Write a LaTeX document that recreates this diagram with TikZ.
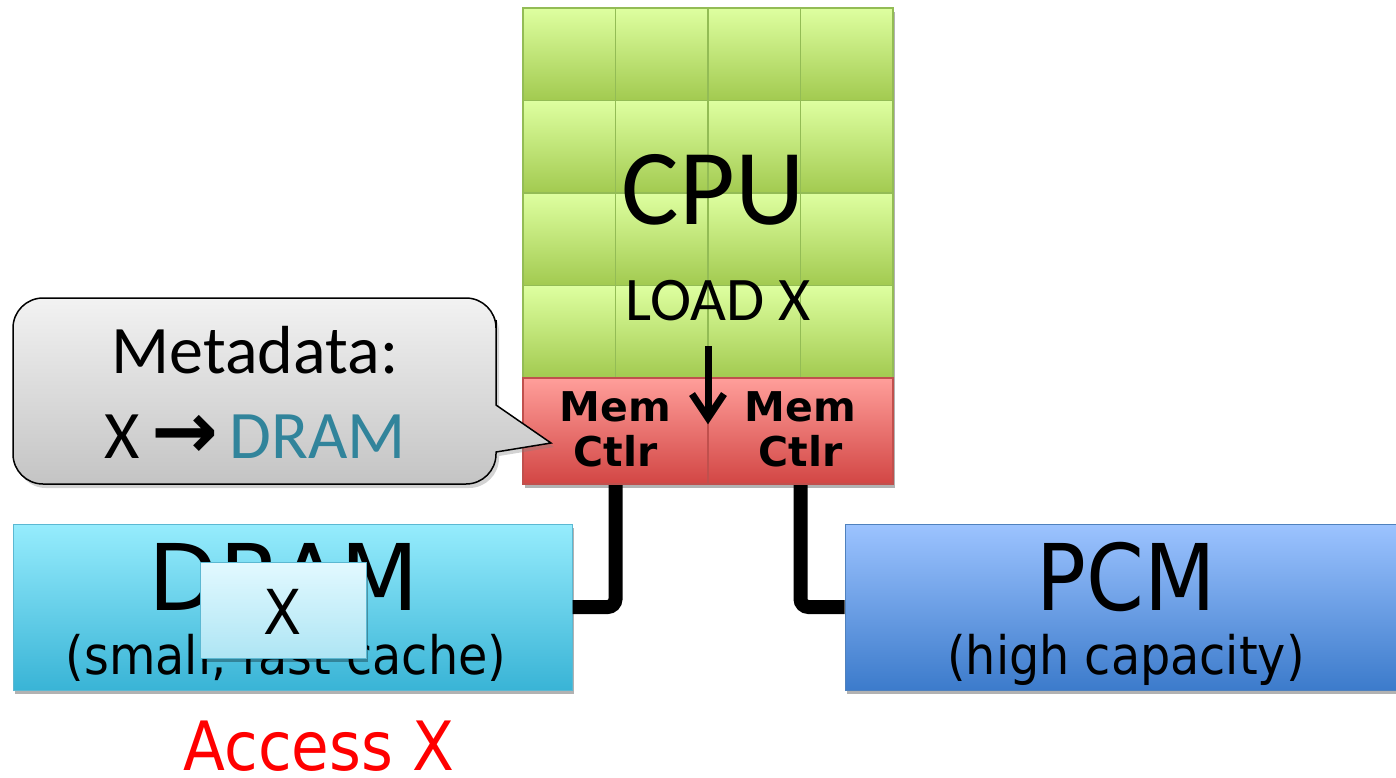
\documentclass[tikz,border=0pt]{standalone}
\usepackage{fontspec}
\usetikzlibrary{arrows.meta,shadows}
\newfontfamily\tahfont{DejaVu Sans Condensed}
\newfontfamily\tahwide{DejaVu Sans Condensed}[FakeStretch=1.1]
\newfontfamily\calfont{Carlito}
\newfontfamily\arrfont{DejaVu Sans}
\definecolor{cpuT}{HTML}{DEFFA0}
\definecolor{cpuB}{HTML}{A2CA50}
\definecolor{cpuL}{HTML}{93BC55}
\definecolor{mcT}{HTML}{FF9E9A}
\definecolor{mcB}{HTML}{D24644}
\definecolor{mcL}{HTML}{C0504D}
\definecolor{drT}{HTML}{96ECFD}
\definecolor{drB}{HTML}{39B4D6}
\definecolor{drL}{HTML}{5BB8D2}
\definecolor{pcT}{HTML}{9CC3FF}
\definecolor{pcB}{HTML}{3C7BCB}
\definecolor{pcL}{HTML}{4F81BD}
\definecolor{xT}{HTML}{E2F9FF}
\definecolor{xB}{HTML}{AEE5F4}
\definecolor{coT}{HTML}{F2F2F2}
\definecolor{coB}{HTML}{C4C4C4}
\definecolor{tealc}{HTML}{31849B}
\tikzset{
  shad/.style={drop shadow={shadow xshift=2pt,shadow yshift=-4pt,opacity=0.3,fill=black}},
  cell/.style={draw=cpuL,line width=1.3pt,top color=cpuT,bottom color=cpuB},
  membox/.style={draw=mcL,line width=1.2pt,top color=mcT,bottom color=mcB,minimum width=185pt,minimum height=106pt,inner sep=0pt},
  memtext/.style={font=\arrfont\bfseries\fontsize{41}{45}\selectfont,align=center},
  bus/.style={line width=14pt,rounded corners=8pt},
}
\begin{document}
\begin{tikzpicture}[x=1pt,y=-1pt]
\useasboundingbox (0,0) rectangle (1396,777);
% CPU block shadow
\node[shad,fill=white,minimum width=370pt,minimum height=476pt,inner sep=0pt] (cpublk) at (708,246) {};
% buses
\coordinate (lbus) at (615.5,484);
\coordinate (rbus) at (800.5,484);
% memory modules
\node[shad,draw=drL,line width=1pt,top color=drT,bottom color=drB,minimum width=559pt,minimum height=166pt,inner sep=0pt] (dram) at (292.5,607) {};
\node[shad,draw=pcL,line width=1pt,top color=pcT,bottom color=pcB,minimum width=552pt,minimum height=166pt,inner sep=0pt] (pcm) at (1121,607) {};
\draw[bus] (lbus) |- (dram.east);
\draw[bus] (rbus) |- (pcm.west);
% CPU cells
\foreach \i in {0,...,3}{
  \foreach \j in {0,...,3}{
    \path[cell] ({523+\i*92.5},{8+\j*92.5}) rectangle +(92.5,92.5);
  }
}
\node[membox] (memL) at (615.5,431) {};
\node[membox] (memR) at (800.5,431) {};
\node[memtext] (memLt) at ([yshift=2pt]memL) {Mem\\Ctlr};
\node[memtext] (memRt) at ([yshift=2pt]memR) {Mem\\Ctlr};
\node[anchor=base,font=\calfont\fontsize{108}{108}\selectfont,inner sep=0pt] (cput) at (713,224) {CPU};
\node[anchor=base,font=\calfont\fontsize{62}{62}\selectfont,inner sep=0pt] (load) at (718,320) {LOAD X};
\coordinate (arrS) at (708,346);
\coordinate (arrE) at (708,418);
\draw[line width=7pt,line join=miter] (arrS) -- (arrE);
\draw[line width=7pt,line join=miter] (arrE) ++(-16,-24) -- (arrE) -- ++(16,-24);
% callout
\shade[top color=coT,bottom color=coB,draw=black,line width=1.5pt,drop shadow={shadow xshift=3pt,shadow yshift=-4pt,opacity=0.35}]
  (13,391) [rounded corners=30pt] -- (13,298) -- (496,298) -- (496,350) [sharp corners] -- (496,405) -- (551,443) -- (496,452) [rounded corners=30pt] -- (496,484) -- (13,484) -- cycle;
\node[anchor=base,font=\calfont\fontsize{68}{68}\selectfont,inner sep=0pt] (meta) at (255,373) {Metadata:};
\node[anchor=base,font=\calfont\fontsize{68}{68}\selectfont,inner sep=0pt] (map) at (255,458) {X\,{\arrfont\bfseries\fontsize{80}{80}\selectfont →}\,\textcolor{tealc}{DRAM}};
% DRAM texts
\node[anchor=base,font=\tahwide\fontsize{92}{92}\selectfont,inner sep=0pt] (dramt) at (284,610) {DRAM};
\node[anchor=base,font=\tahfont\fontsize{53}{53}\selectfont,inner sep=0pt] (dramsub) at (286,674) {(small, fast cache)};
\node[shad,draw=drL,line width=1pt,top color=xT,bottom color=xB,minimum width=166pt,minimum height=96pt,inner sep=0pt] (xbox) at (283,610) {};
\node[anchor=base,font=\tahfont\fontsize{62}{62}\selectfont,inner sep=0pt] (xt) at (283,634) {X};
% PCM texts
\node[anchor=base,font=\tahfont\fontsize{92}{92}\selectfont,inner sep=0pt] (pcmt) at (1126,610) {PCM};
\node[anchor=base,font=\tahfont\fontsize{53}{53}\selectfont,inner sep=0pt] (pcmsub) at (1126,674) {(high capacity)};
% Access
\node[anchor=base,font=\tahfont\fontsize{68}{68}\selectfont,text=red,inner sep=0pt] (acc) at (319,770) {Access X};
\end{tikzpicture}
\end{document}
